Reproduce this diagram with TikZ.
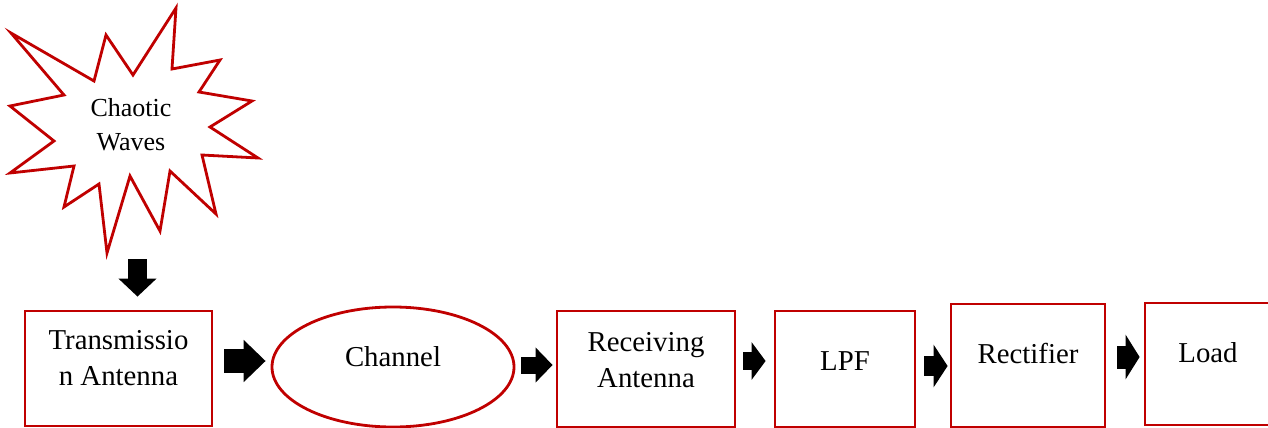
\documentclass[tikz,border=0pt]{standalone}
\usepackage{fontspec}
\setmainfont{Liberation Serif}
\usetikzlibrary{shapes.geometric}
\usetikzlibrary{arrows.meta}
\definecolor{wordred}{RGB}{192,0,0}
\tikzstyle{box} = [rectangle, draw=wordred, line width=1.4pt, inner sep=0pt]
\tikzstyle{oval} = [ellipse, draw=wordred, line width=1.4pt, inner sep=0pt]
\tikzstyle{txt} = [align=center, font=\fontsize{14.4}{18}\selectfont]
\tikzstyle{fat} = [draw=black, line cap=butt]

\begin{document}
\begin{tikzpicture}[x=0.5pt,y=-0.5pt]
\useasboundingbox (0,0) rectangle (1268,428);
\clip (0,0) rectangle (1268,428);

% the burst
\draw [wordred, line width=1.4pt, fill=white] (11,33) -- (94,81) -- (106,35) -- (133,75) -- (176,8) -- (172,69) -- (220,60) -- (199,92) -- (252,101) -- (210,127) -- (258,158) -- (202,155) -- (216,214) -- (170,171) -- (160,231) -- (130,176) -- (107,253) -- (99,184) -- (64,207) -- (74,166) -- (10,173) -- (54,141) -- (10,106) -- (64,95) -- cycle;
\node (cw) [txt, font=\fontsize{13}{17}\selectfont] at (131,125) {Chaotic\\Waves};
\coordinate (drop) at (137.5,259);

\node (tx) [box, minimum width=93.5pt, minimum height=57.5pt, label={[txt,yshift=5pt]center:Transmissio\\n Antenna}] at (118.5,368.5) {};
\node (ch) [oval, minimum width=121pt, minimum height=60pt, label={[txt,yshift=5.25pt]center:Channel}] at (393,367) {};
\node (rx) [box, minimum width=89pt, minimum height=58pt, label={[txt,yshift=4.5pt]center:Receiving\\Antenna}] at (646,369) {};
\node (lpf) [box, minimum width=70pt, minimum height=58pt, label={[txt,yshift=3.75pt]center:LPF}] at (845,369) {};
\node (rect) [box, minimum width=77pt, minimum height=61.5pt, label={[txt,yshift=6pt]center:Rectifier}] at (1028,365.5) {};
\node (load) [box, minimum width=63pt, minimum height=61pt, label={[txt,yshift=5.5pt]center:Load}] at (1208,364) {};

\draw [fat, line width=9.5pt, -{Triangle[length=9pt,width=18.5pt]}, shorten >=6.5pt] (drop) -- (drop |- tx.north);
\draw [fat, line width=12pt, -{Triangle[length=11pt,width=20.5pt]}, shorten <=5.5pt, shorten >=2.5pt] ([yshift=3.75pt]tx.east) -- ([yshift=3.75pt]tx.east -| ch.west);
\draw [fat, line width=8.5pt, -{Triangle[length=8.5pt,width=17pt]}, shorten <=3pt, shorten >=1.5pt] ([yshift=1pt]ch.east) -- ([yshift=1pt]ch.east -| rx.west);
\draw [fat, line width=9pt, -{Triangle[length=7pt,width=18.5pt]}, shorten <=3.5pt, shorten >=4pt] ([yshift=4pt]rx.east) -- ([yshift=4pt]rx.east -| lpf.west);
\draw [fat, line width=10pt, -{Triangle[length=7pt,width=21pt]}, shorten <=4pt, shorten >=1pt] ([yshift=1.5pt]lpf.east) -- ([yshift=1.5pt]lpf.east -| rect.west);
\draw [fat, line width=11.5pt, -{Triangle[length=7pt,width=22pt]}, shorten <=5.5pt, shorten >=2pt] ([yshift=4.25pt]rect.east) -- ([yshift=4.25pt]rect.east -| load.west);

\end{tikzpicture}
\end{document}
